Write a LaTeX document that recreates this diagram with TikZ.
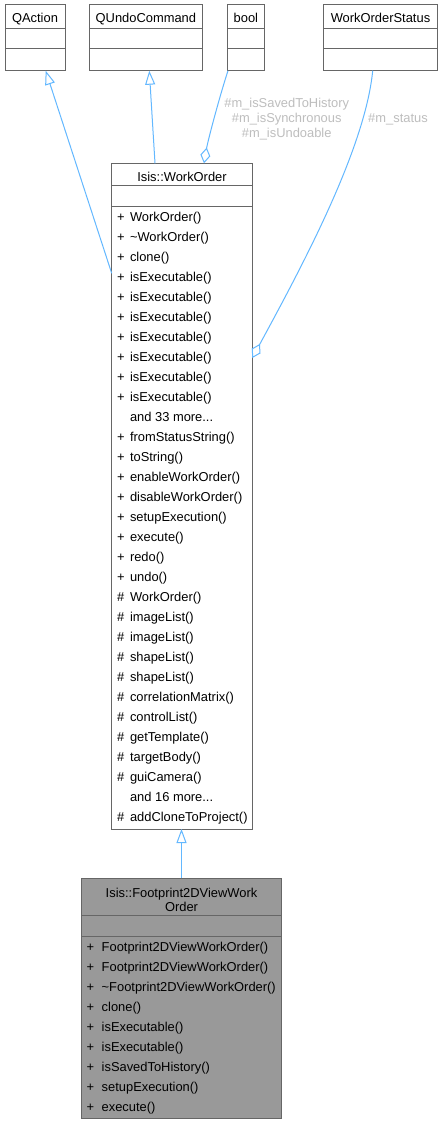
\documentclass[tikz,border=0pt]{standalone}
\usepackage{fontspec}
\setmainfont{Liberation Sans}
\usetikzlibrary{arrows.meta}
\definecolor{boxc}{HTML}{666666}
\definecolor{edgec}{HTML}{63B8FF}
\definecolor{lblc}{HTML}{BEBEBE}
\definecolor{fpfill}{HTML}{999999}
\newcommand\dgfont{\fontsize{12.9}{15}\selectfont}
\begin{document}
\begin{tikzpicture}[x=1pt,y=-1pt,
  cls/.style={rectangle, draw=boxc, line width=1pt, fill=white, inner sep=0pt, outer sep=0pt, anchor=north west},
  divl/.style={draw=boxc, line width=1pt},
  txt/.style={inner sep=0pt, outer sep=0pt, font=\dgfont, text=black},
  lbl/.style={inner sep=0pt, outer sep=0pt, font=\dgfont, text=lblc, anchor=base},
  conn/.style={draw=edgec, line width=1pt},
  inh/.style={conn, -{Triangle[open, length=14pt, width=10pt]}},
  agg/.style={conn, {Diamond[open, length=16pt, width=10pt]}-}
]
\fill[white] (0,0) rectangle (443,1124);
\useasboundingbox (0,0) rectangle (443,1124);

% top classes
\node[cls, minimum width=60pt, minimum height=65.7pt] (qaction) at (5,5) {};
\node[cls, minimum width=113.7pt, minimum height=65.7pt] (qundo) at (89,5) {};
\node[cls, minimum width=37.7pt, minimum height=65.7pt] (boolc) at (227,5) {};
\node[cls, minimum width=113.6pt, minimum height=65.7pt] (wos) at (323.7,5) {};
\foreach \xa/\xb in {5/65, 89/202.7, 227/264.7, 323.7/437.3}{
  \draw[divl] (\xa,28.3) -- (\xb,28.3);
  \draw[divl] (\xa,48.3) -- (\xb,48.3);
}
\node[txt, anchor=base] (qaction-t) at (35,23) {QAction};
\node[txt, anchor=base] (qundo-t) at (145.85,23) {QUndoCommand};
\node[txt, anchor=base] (boolc-t) at (245.85,23) {bool};
\node[txt, anchor=base] (wos-t) at (380.5,23) {WorkOrderStatus};

% Isis::WorkOrder
\node[cls, minimum width=140.6pt, minimum height=665.7pt] (wo) at (111.7,163.3) {};
\draw[divl] (111.7,185.7) -- (252.3,185.7);
\draw[divl] (111.7,206) -- (252.3,206);
\node[txt, anchor=base] (wo-t) at (182,181) {Isis::WorkOrder};
\foreach \i/\s/\nm in {0/+/WorkOrder(), 1/+/\textasciitilde WorkOrder(), 2/+/clone(),
  3/+/isExecutable(), 4/+/isExecutable(), 5/+/isExecutable(), 6/+/isExecutable(),
  7/+/isExecutable(), 8/+/isExecutable(), 9/+/isExecutable(),
  11/+/fromStatusString(), 12/+/toString(), 13/+/enableWorkOrder(), 14/+/disableWorkOrder(),
  15/+/setupExecution(), 16/+/execute(), 17/+/redo(), 18/+/undo(),
  19/\#/WorkOrder(), 20/\#/imageList(), 21/\#/imageList(), 22/\#/shapeList(), 23/\#/shapeList(),
  24/\#/correlationMatrix(), 25/\#/controlList(), 26/\#/getTemplate(), 27/\#/targetBody(),
  28/\#/guiCamera(), 30/\#/addCloneToProject()}{
  \node[txt, anchor=base] (wo-s\i) at (120.8,221+20*\i) {\s};
  \node[txt, anchor=base west] (wo-n\i) at (130,221+20*\i) {\nm};
}
\node[txt, anchor=base west] (wo-n10) at (130,421) {and 33 more...};
\node[txt, anchor=base west] (wo-n29) at (130,801) {and 16 more...};

% Isis::Footprint2DViewWorkOrder
\node[cls, fill=fpfill, minimum width=199.6pt, minimum height=240pt] (fp) at (81.7,878.3) {};
\draw[divl] (81.7,915) -- (281.3,915);
\draw[divl] (81.7,936) -- (281.3,936);
\node[txt, anchor=base] (fp-t1) at (181.5,897) {Isis::Footprint2DViewWork};
\node[txt, anchor=base] (fp-t2) at (181.5,911) {Order};
\foreach \i/\nm in {0/Footprint2DViewWorkOrder(), 1/Footprint2DViewWorkOrder(),
  2/\textasciitilde Footprint2DViewWorkOrder(), 3/clone(), 4/isExecutable(),
  5/isExecutable(), 6/isSavedToHistory(), 7/setupExecution(), 8/execute()}{
  \node[txt, anchor=base] (fp-s\i) at (90.5,951.5+20*\i) {+};
  \node[txt, anchor=base west] (fp-n\i) at (101.7,951.5+20*\i) {\nm};
}

% connectors
\coordinate (qa-tip) at (45.7,70.7);
\coordinate (wo-qa) at (111.7,273.3);
\draw[inh] (wo-qa) -- (qa-tip);

\coordinate (qu-tip) at (149.3,70.7);
\coordinate (wo-qu) at (155,163.3);
\draw[inh] (wo-qu) -- (qu-tip);

\coordinate (wo-bool) at (204,163.3);
\coordinate (bool-out) at (228,70.7);
\draw[agg] (wo-bool) .. controls (208,140) and (220,95) .. (bool-out);

\coordinate (wo-st) at (252.3,358);
\coordinate (st-out) at (372.7,70.7);
\draw[agg] (wo-st) .. controls (300,270) and (365,150) .. (st-out);

\draw[inh] (fp.north) -- (fp.north |- wo.south);

% labels
\node[lbl] (l1) at (286.7,107.5) {\#m\_isSavedToHistory};
\node[lbl] (l2) at (286.7,122.5) {\#m\_isSynchronous};
\node[lbl] (l3) at (286.7,137.5) {\#m\_isUndoable};
\node[lbl] (l4) at (398,122.5) {\#m\_status};
\end{tikzpicture}
\end{document}
